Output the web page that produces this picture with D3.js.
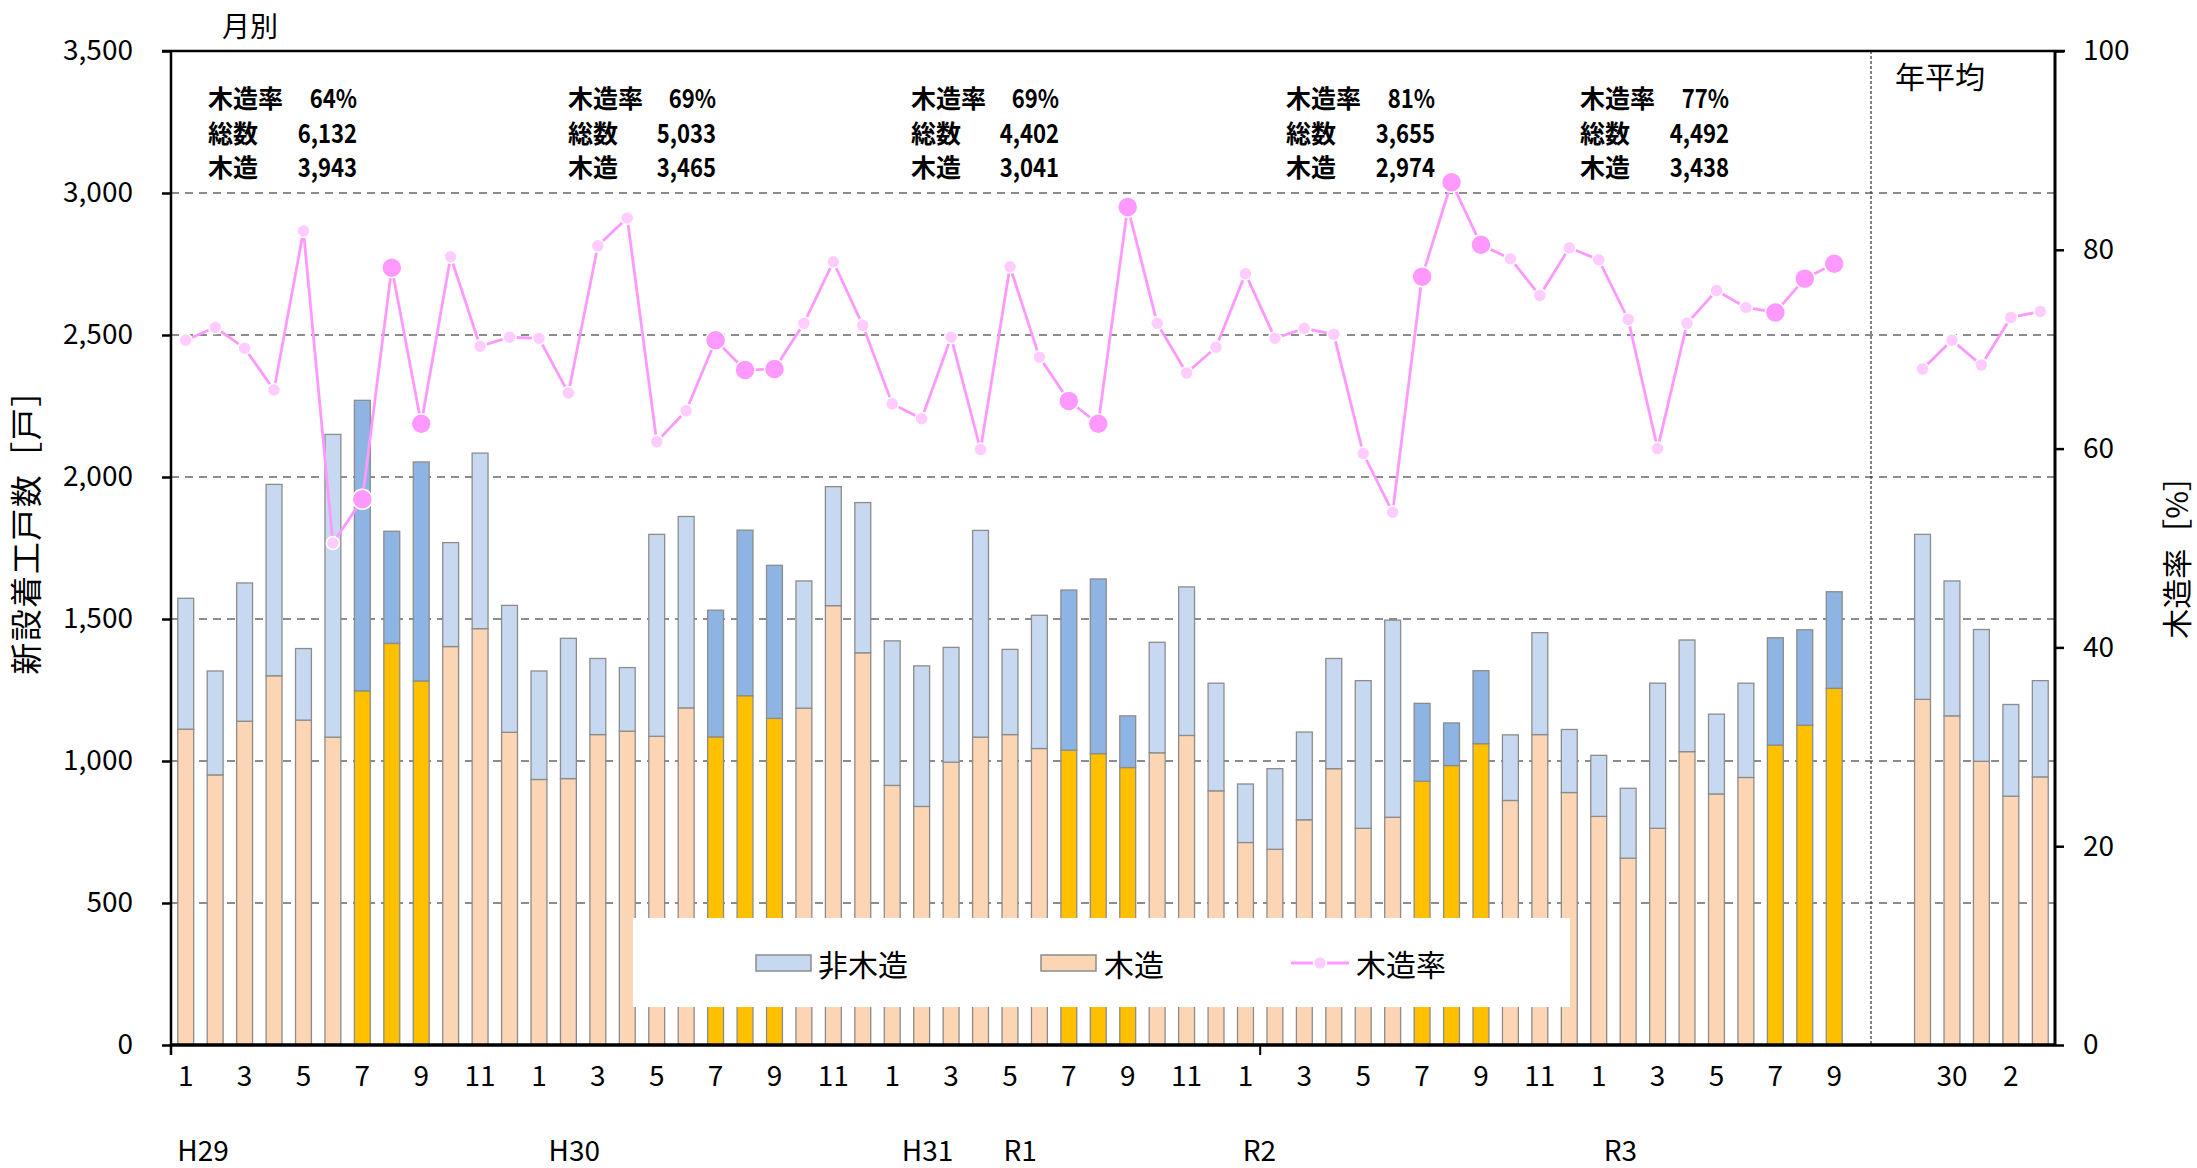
<!DOCTYPE html>
<html><head><meta charset="utf-8">
<script src="https://cdn.jsdelivr.net/npm/d3@7"></script>
<style>
body{margin:0;background:#fff;}
svg{display:block;}
text{font-family:"Noto Sans CJK JP","Noto Sans",sans-serif;fill:#000;}
</style>
</head><body>
<svg id="chart" width="2197" height="1168"></svg>
<script>
// ---------------- DATA ----------------
const monthLabels = [
  "1","2","3","4","5","6","7","8","9","10","11","12",
  "1","2","3","4","5","6","7","8","9","10","11","12",
  "1","2","3","4","5","6","7","8","9","10","11","12",
  "1","2","3","4","5","6","7","8","9","10","11","12",
  "1","2","3","4","5","6","7","8","9"
];
const eraLabels = ["H29","H30","H31","R1","R2","R3"];
const eraStartMonth = [0,12,24,28,36,48];
const woodMonthly = [
  1112,951,1140,1300,1144,1084,1247,1414,1282,1403,1466,1101,
  935,938,1093,1105,1087,1187,1085,1230,1150,1186,1547,1381,
  914,840,996,1084,1093,1044,1038,1026,977,1029,1090,895,
  713,689,793,973,763,802,929,984,1061,861,1093,889,
  805,658,763,1033,884,942,1056,1126,1256
];
const nonWoodMonthly = [
  461,366,487,674,252,1066,1023,395,771,366,618,447,
  382,494,268,224,711,674,446,583,539,448,419,529,
  509,495,404,728,300,469,564,615,182,389,523,379,
  206,284,309,388,520,694,274,150,257,231,359,222,
  215,246,511,393,281,332,378,336,340
];
const rateMonthly = [
  70.9,72.2,70.1,65.9,81.9,50.5,54.9,78.2,62.5,79.3,70.3,71.2,
  71.1,65.6,80.4,83.2,60.7,63.8,70.9,67.9,68.0,72.6,78.8,72.4,
  64.5,63.0,71.2,59.9,78.3,69.2,64.8,62.5,84.3,72.6,67.6,70.2,
  77.6,71.1,72.1,71.5,59.5,53.6,77.3,86.8,80.5,79.1,75.4,80.2,
  79.0,73.0,60.0,72.6,75.9,74.2,73.7,77.1,78.6
];
const yearLabels = ["29","30","元","2","3"];
const woodYearly = [1217,1159,999,876,944];
const nonWoodYearly = [581,475,464,323,339];
const rateYearly = [68.0,70.9,68.4,73.2,73.8];
const highlightMonths = ["7","8","9"];
const summaryRate  = ["64%","69%","69%","81%","77%"];
const summaryTotal = ["6,132","5,033","4,402","3,655","4,492"];
const summaryWood  = ["3,943","3,465","3,041","2,974","3,438"];
const summaryRowLabels = ["木造率","総数","木造"];
const leftTicks = [0,500,1000,1500,2000,2500,3000,3500];
const rightTicks = [0,20,40,60,80,100];
const legendLabels = ["非木造","木造","木造率"];

// ---------------- LAYOUT ----------------
const M = {left:171, right:2055, top:51, bottom:1045};
const eraOffset = [1.09,1.7,1.7,0.85,0.97,1.24];
const summaryX0 = [208,568,911,1286,1580];
const summaryX1 = [357,716,1059,1435,1729];
const summaryY = [97,132,166];
const C = {
  nonWood:"#C6D9F1", nonWoodHL:"#8DB4E2",
  wood:"#FCD5B5", woodHL:"#FFC000",
  line:"#FF99FF", mark:"#FFCCFF", markHL:"#FF99FF",
  barStroke:"#8C8C8C", grid:"#8C8C8C"
};

const svg = d3.select("#chart");

const rows = monthLabels.map((lab,i)=>({
  key:"m"+i, label:lab, wood:woodMonthly[i], nonWood:nonWoodMonthly[i],
  rate:rateMonthly[i], hl: highlightMonths.includes(lab)
}));
const yrows = yearLabels.map((lab,i)=>({
  key:"y"+i, label:lab, wood:woodYearly[i], nonWood:nonWoodYearly[i],
  rate:rateYearly[i], hl:false
}));
const allRows = rows.concat(yrows);
const keys = rows.map(d=>d.key).concat(["g0","g1"]).concat(yrows.map(d=>d.key));

const x = d3.scaleBand().domain(keys).range([M.left,M.right]).paddingInner(0.46).paddingOuter(0.23);
const step = x.step();
const xc = k => x(k) + x.bandwidth()/2;
const y = d3.scaleLinear().domain([0,3500]).range([M.bottom,M.top]);
const y2 = d3.scaleLinear().domain([0,100]).range([M.bottom,M.top]);

// gridlines
svg.append("g").selectAll("line").data(leftTicks.filter(v=>v>0 && v<3500)).join("line")
  .attr("x1",M.left).attr("x2",M.right).attr("y1",d=>y(d)).attr("y2",d=>y(d))
  .attr("stroke",C.grid).attr("stroke-width",2).attr("stroke-dasharray","8,6");

// stacked bars
const stacked = d3.stack().keys(["wood","nonWood"])(allRows);
const gb = svg.append("g");
stacked.forEach(layer=>{
  gb.append("g").selectAll("rect").data(layer).join("rect")
    .attr("x",d=>x(d.data.key)).attr("width",x.bandwidth())
    .attr("y",d=>y(d[1])).attr("height",d=>y(d[0])-y(d[1]))
    .attr("fill",d=> layer.key==="wood" ? (d.data.hl?C.woodHL:C.wood) : (d.data.hl?C.nonWoodHL:C.nonWood))
    .attr("stroke",C.barStroke).attr("stroke-width",1.3);
});

// separator
const sepX = M.left + step*57.75;
svg.append("line").attr("x1",sepX).attr("x2",sepX).attr("y1",M.top).attr("y2",M.bottom)
  .attr("stroke","#333").attr("stroke-width",1.2).attr("stroke-dasharray","3,2");

// rate lines
const line = d3.line().x(d=>xc(d.key)).y(d=>y2(d.rate));
[rows,yrows].forEach(set=>{
  svg.append("path").datum(set).attr("d",line).attr("fill","none")
    .attr("stroke",C.line).attr("stroke-width",2.8);
});
svg.append("g").selectAll("circle").data(allRows).join("circle")
  .attr("cx",d=>xc(d.key)).attr("cy",d=>y2(d.rate))
  .attr("r",d=>d.hl?10:6.5)
  .attr("fill",d=>d.hl?C.markHL:C.mark)
  .attr("stroke","#fff").attr("stroke-width",1.5);

// axes
const axL = svg.append("g").attr("transform",`translate(${M.left},0)`)
  .call(d3.axisLeft(y).tickValues(leftTicks).tickSize(9).tickPadding(29).tickFormat(d3.format(",")));
axL.select(".domain").remove();
axL.selectAll("line").attr("stroke","#000").attr("stroke-width",2.5);
axL.selectAll("text").attr("font-size",28).style("font-family",'"Noto Sans CJK JP","Noto Sans",sans-serif');

const axR = svg.append("g").attr("transform",`translate(${M.right},0)`)
  .call(d3.axisRight(y2).tickValues(rightTicks).tickSize(9).tickPadding(19));
axR.select(".domain").remove();
axR.selectAll("line").attr("stroke","#000").attr("stroke-width",2.5);
axR.selectAll("text").attr("font-size",28).style("font-family",'"Noto Sans CJK JP","Noto Sans",sans-serif');

// frame lines
svg.append("line").attr("x1",M.left-9).attr("x2",M.right+10).attr("y1",M.top).attr("y2",M.top).attr("stroke","#000").attr("stroke-width",2.5);
svg.append("line").attr("x1",M.left).attr("x2",M.left).attr("y1",M.top).attr("y2",M.bottom+10).attr("stroke","#000").attr("stroke-width",2.5);
svg.append("line").attr("x1",M.right).attr("x2",M.right).attr("y1",M.top).attr("y2",M.bottom).attr("stroke","#000").attr("stroke-width",3);
svg.append("line").attr("x1",M.left).attr("x2",M.right).attr("y1",M.bottom).attr("y2",M.bottom).attr("stroke","#000").attr("stroke-width",3.5);
// category tick at R2 boundary
const boundaryTick = M.left + step*37;
svg.append("line").attr("x1",boundaryTick).attr("x2",boundaryTick).attr("y1",M.bottom).attr("y2",M.bottom+10).attr("stroke","#000").attr("stroke-width",2);

// month labels
svg.append("g").selectAll("text").data(rows.filter(d=>(+d.label)%2===1)).join("text")
  .attr("x",d=>xc(d.key)).attr("y",1074).attr("text-anchor","middle").attr("dominant-baseline","central")
  .attr("font-size",28).text(d=>d.label);
svg.append("g").selectAll("text").data(yrows.filter((d,i)=>i%2===1)).join("text")
  .attr("x",d=>xc(d.key)).attr("y",1074).attr("text-anchor","middle").attr("dominant-baseline","central")
  .attr("font-size",28).text(d=>d.label);
// era labels
svg.append("g").selectAll("text").data(eraLabels).join("text")
  .attr("x",(d,i)=>M.left + step*(eraStartMonth[i]+eraOffset[i]))
  .attr("y",1149).attr("text-anchor","middle").attr("dominant-baseline","central")
  .attr("font-size",28).text(d=>d);

// titles
svg.append("text").attr("x",250).attr("y",25).attr("text-anchor","middle").attr("dominant-baseline","central")
  .attr("font-size",28).text("月別");
svg.append("text").attr("x",1940).attr("y",75).attr("text-anchor","middle").attr("dominant-baseline","central")
  .attr("font-size",30).text("年平均");
svg.append("text").attr("transform","translate(24,524) rotate(-90)").attr("text-anchor","middle")
  .attr("dominant-baseline","central").attr("font-size",32).attr("letter-spacing",1.5).text("新設着工戸数［戸］");
svg.append("text").attr("transform","translate(2175,550) rotate(-90)").attr("text-anchor","middle")
  .attr("dominant-baseline","central").attr("font-size",30).text("木造率［%］");

// summary annotations
const sg = svg.append("g");
summaryRate.forEach((r,i)=>{
  const vals = [r, summaryTotal[i], summaryWood[i]];
  summaryRowLabels.forEach((lab,j)=>{
    sg.append("text").attr("x",summaryX0[i]).attr("y",summaryY[j]).attr("dominant-baseline","central")
      .attr("font-size",25).attr("font-weight","bold").text(lab);
    sg.append("text")
      .attr("transform",`translate(${summaryX1[i]},${summaryY[j]}) scale(0.85,1)`)
      .attr("dominant-baseline","central")
      .attr("text-anchor","end").attr("font-size",26).attr("font-weight","bold").text(vals[j]);
  });
});

// legend
const lg = svg.append("g");
lg.append("rect").attr("x",633).attr("y",918).attr("width",937).attr("height",89).attr("fill","#fff");
lg.append("rect").attr("x",756).attr("y",955).attr("width",55).attr("height",16).attr("fill",C.nonWood).attr("stroke",C.barStroke).attr("stroke-width",1.5);
lg.append("text").attr("x",818).attr("y",963).attr("dominant-baseline","central").attr("font-size",30).text(legendLabels[0]);
lg.append("rect").attr("x",1041).attr("y",955).attr("width",55).attr("height",16).attr("fill",C.wood).attr("stroke",C.barStroke).attr("stroke-width",1.5);
lg.append("text").attr("x",1104).attr("y",963).attr("dominant-baseline","central").attr("font-size",30).text(legendLabels[1]);
lg.append("line").attr("x1",1291).attr("x2",1349).attr("y1",963).attr("y2",963).attr("stroke",C.line).attr("stroke-width",2.8);
lg.append("circle").attr("cx",1320).attr("cy",963).attr("r",6.5).attr("fill",C.mark).attr("stroke","#fff").attr("stroke-width",1.5);
lg.append("text").attr("x",1356).attr("y",963).attr("dominant-baseline","central").attr("font-size",30).text(legendLabels[2]);
</script>
</body></html>
